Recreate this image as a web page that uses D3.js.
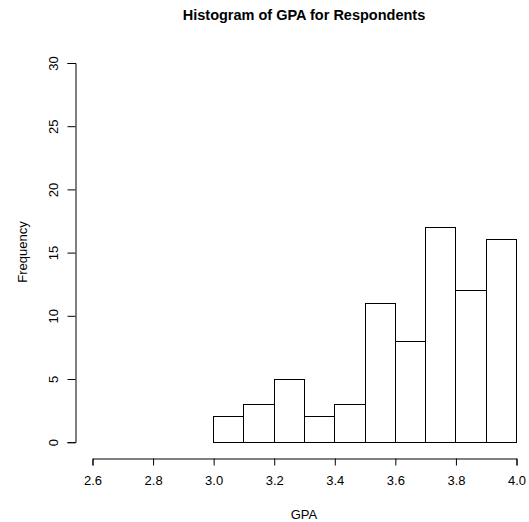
<!DOCTYPE html>
<html>
<head>
<meta charset="utf-8">
<script src="https://cdn.jsdelivr.net/npm/d3@7"></script>
<style>
  body { margin: 0; background: #fff; }
  text { font-family: "Liberation Sans", Arial, sans-serif; fill: #000; }
</style>
</head>
<body>
<div id="chart"></div>
<script>
// histogram bins (lower edge, upper edge) and counts
var binStarts = [3.0, 3.1, 3.2, 3.3, 3.4, 3.5, 3.6, 3.7, 3.8, 3.9];
var binEnds   = [3.1, 3.2, 3.3, 3.4, 3.5, 3.6, 3.7, 3.8, 3.9, 4.0];
var counts    = [2, 3, 5, 2, 3, 11, 8, 17, 12, 16];
var xTicks = [2.6, 2.8, 3.0, 3.2, 3.4, 3.6, 3.8, 4.0];
var yTicks = [0, 5, 10, 15, 20, 25, 30];

var width = 529, height = 522;

var svg = d3.select("#chart").append("svg")
    .attr("width", width)
    .attr("height", height);

var x = d3.scaleLinear().domain([2.6, 4.0]).range([92, 516]);
var y = d3.scaleLinear().domain([0, 30]).range([441.7, 62.5]);

var bins = binStarts.map(function(s, i) {
    return {x0: s, x1: binEnds[i], n: counts[i]};
});

// bars
svg.selectAll(".bar")
    .data(bins)
    .enter().append("rect")
    .attr("class", "bar")
    .attr("x", function(d) { return Math.round(x(d.x0)) + 0.5; })
    .attr("y", function(d) { return Math.round(y(d.n)) + 0.5; })
    .attr("width", function(d) { return Math.round(x(d.x1)) - Math.round(x(d.x0)); })
    .attr("height", function(d) { return Math.round(y(0)) - Math.round(y(d.n)); })
    .attr("fill", "#fff")
    .attr("stroke", "#000")
    .attr("stroke-width", 1);

// x axis
var xAxis = svg.append("g")
    .attr("class", "axis")
    .attr("transform", "translate(0.5,458.5)")
    .call(d3.axisBottom(x).tickValues(xTicks).tickSize(7).tickPadding(10)
        .tickFormat(d3.format(".1f")));
xAxis.selectAll("text").attr("font-size", "13px")
    .style("font-family", "'Liberation Sans', Arial, sans-serif");
xAxis.select(".domain").attr("stroke", "#000");

// y axis
var yAxis = svg.append("g")
    .attr("class", "axis")
    .attr("transform", "translate(75.5,0.5)")
    .call(d3.axisLeft(y).tickValues(yTicks).tickSize(8).tickPadding(0));
yAxis.select(".domain").attr("stroke", "#000");
yAxis.selectAll(".tick text")
    .attr("x", 0).attr("dy", null)
    .attr("transform", "translate(-18,0) rotate(-90)")
    .attr("text-anchor", "middle")
    .attr("font-size", "13px")
    .style("font-family", "'Liberation Sans', Arial, sans-serif");

// title and axis labels
svg.append("text")
    .attr("x", 304).attr("y", 20)
    .attr("text-anchor", "middle")
    .attr("font-size", "14.5px")
    .attr("font-weight", "bold")
    .text("Histogram of GPA for Respondents");

svg.append("text")
    .attr("x", 304).attr("y", 519)
    .attr("text-anchor", "middle")
    .attr("font-size", "13px")
    .text("GPA");

svg.append("text")
    .attr("transform", "translate(27,252) rotate(-90)")
    .attr("text-anchor", "middle")
    .attr("font-size", "13px")
    .text("Frequency");
</script>
</body>
</html>
